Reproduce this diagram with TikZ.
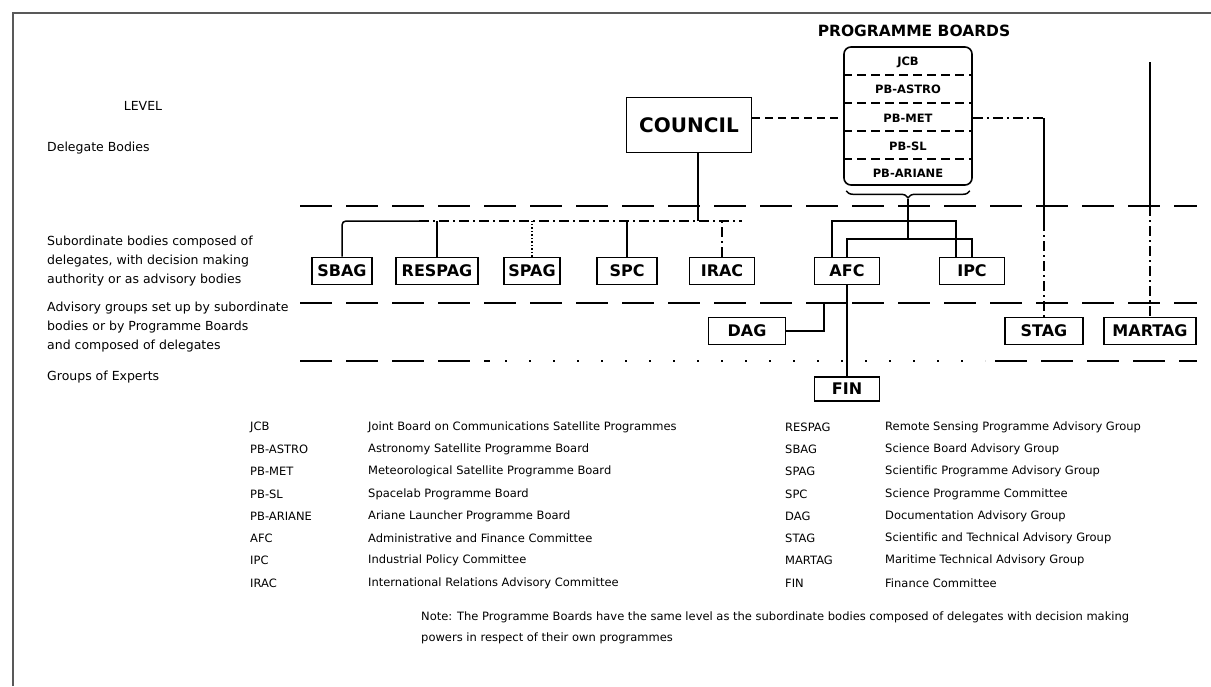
\documentclass[tikz,border=0pt]{standalone}
\usepackage{fontspec}
\setmainfont{DejaVu Sans}
\usetikzlibrary{decorations.pathreplacing}

\tikzset{
  org/.style={draw, line width=1.6pt, font=\bfseries\fontsize{16}{16}\selectfont,
    minimum height=27pt, inner sep=1pt},
  link/.style={line width=1.5pt},
  dashdot/.style={dash pattern=on 10pt off 4pt on 2pt off 4pt},
  longdash/.style={dash pattern=on 8pt off 5pt},
  band/.style={line width=1.8pt, dash pattern=on 32pt off 14pt},
  lbl/.style={anchor=west, font=\fontsize{12.5}{19}\selectfont, align=left, inner sep=0pt},
  key/.style={anchor=west, font=\fontsize{11.5}{14}\selectfont, inner sep=0pt},
  boardrow/.style={font=\bfseries\fontsize{11.5}{12}\selectfont, inner sep=0pt},
}

\begin{document}
\begin{tikzpicture}[x=1pt,y=-1pt]
  \useasboundingbox (0,0) rectangle (1211,686);

  % frame of the page
  \draw[line width=1.6pt, gray!70!black] (13,686) -- (13,13) -- (1211,13);

  % level bands
  \draw[band] (300,206) -- (1197,206);
  \draw[band] (300,303) -- (1197,303);
  \draw[band] (300,361) -- (490,361);
  \draw[line width=1.8pt, dash pattern=on 2pt off 22pt] (505,361) -- (985,361);
  \draw[band] (995,361) -- (1197,361);

  % level labels
  \node[lbl, anchor=center] (level) at (143,106) {LEVEL};
  \node[lbl] (deleg) at (47,148) {Delegate Bodies};
  \node[lbl] (subord) at (47,261) {Subordinate bodies composed of\\delegates, with decision making\\authority or as advisory bodies};
  \node[lbl] (advis) at (47,327) {Advisory groups set up by subordinate\\bodies or by Programme Boards\\and composed of delegates};
  \node[lbl] (experts) at (47,377) {Groups of Experts};

  % council and programme boards
  \node[draw, line width=1.6pt, minimum width=125pt, minimum height=55pt,
        font=\bfseries\fontsize{20}{20}\selectfont] (council) at (689,125) {COUNCIL};
  \node[font=\bfseries\fontsize{15.5}{16}\selectfont] (pbtitle) at (914,31) {PROGRAMME BOARDS};
  \node[draw, line width=1.6pt, rounded corners=7pt, minimum width=128pt,
        minimum height=138pt] (board) at (908,116) {};
  \node[boardrow] (jcb) at (908,62) {JCB};
  \node[boardrow] (pbastro) at (908,89) {PB-ASTRO};
  \node[boardrow] (pbmet) at (908,118) {PB-MET};
  \node[boardrow] (pbsl) at (908,146) {PB-SL};
  \node[boardrow] (pbariane) at (908,173) {PB-ARIANE};
  \foreach \y in {75,103,131,159}
    \draw[line width=1.4pt, dash pattern=on 9pt off 5pt] (board.west |- 0,\y) -- (board.east |- 0,\y);
  \draw[link, decorate, decoration={brace, amplitude=7pt}]
    ([xshift=-3pt,yshift=-5pt]board.south east) -- ([xshift=3pt,yshift=-5pt]board.south west);
  \coordinate (tip) at ([yshift=-13pt]board.south);

  % subordinate bodies
  \node[org, minimum width=60pt] (sbag) at (342,271) {SBAG};
  \node[org, minimum width=82pt] (respag) at (437,271) {RESPAG};
  \node[org, minimum width=56pt] (spag) at (532,271) {SPAG};
  \node[org, minimum width=60pt] (spc) at (627,271) {SPC};
  \node[org, minimum width=65pt] (irac) at (722,271) {IRAC};
  \node[org, minimum width=65pt] (afc) at (847,271) {AFC};
  \node[org, minimum width=65pt] (ipc) at (972,271) {IPC};

  % advisory groups and experts
  \node[org, minimum width=77pt] (dag) at (747,331) {DAG};
  \node[org, minimum width=78pt] (stag) at (1044,331) {STAG};
  \node[org, minimum width=92pt] (martag) at (1150,331) {MARTAG};
  \node[org, minimum width=65pt, minimum height=24pt] (fin) at (847,389) {FIN};

  % council links
  \coordinate (busw) at (419,221);
  \coordinate (buse) at (742,221);
  \draw[link, longdash] (council.east |- pbmet) -- (board.west |- pbmet);
  \draw[link] ([xshift=9pt]council.south) -- ([xshift=9pt]council.south |- buse);
  \draw[link, rounded corners=4pt] (sbag.north) |- (busw);
  \draw[link, dashdot] (busw) -- (buse);
  \draw[link] (respag.north) -- (respag.north |- buse);
  \draw[link, dotted] (spag.north) -- (spag.north |- buse);
  \draw[link] (spc.north) -- (spc.north |- buse);
  \draw[link, dashdot] (irac.north) -- (irac.north |- buse);

  % programme board links
  \coordinate (busa) at (908,221);
  \coordinate (busb) at (908,239);
  \draw[link] (tip) -- (busb);
  \draw[link] ([xshift=-15pt]afc.north) |- (busa) -| ([xshift=-16pt]ipc.north);
  \draw[link] (afc.north) |- (busb) -| (ipc.north);
  \draw[link] (afc.south) -- (fin.north);
  \coordinate (dagturn) at (824,303);
  \draw[link] (dag.east) -| (dagturn) -- (afc.south |- dagturn);
  \draw[link, dashdot] (board.east |- pbmet) -- (stag.north |- pbmet);
  \draw[link] (stag.north |- pbmet) -- (stag.north |- busa);
  \draw[link, dashdot] (stag.north |- busa) -- (stag.north);
  \coordinate (mtop) at (1150,62);
  \draw[link] (mtop) -- (mtop |- 0,206);
  \draw[link, dashdot] (mtop |- 0,206) -- (martag.north);

  % key to abbreviations
  \foreach \ab/\txt [count=\i] in {
      JCB/Joint Board on Communications Satellite Programmes,
      PB-ASTRO/Astronomy Satellite Programme Board,
      PB-MET/Meteorological Satellite Programme Board,
      PB-SL/Spacelab Programme Board,
      PB-ARIANE/Ariane Launcher Programme Board,
      AFC/Administrative and Finance Committee,
      IPC/Industrial Policy Committee,
      IRAC/International Relations Advisory Committee}
  {
    \node[key] (kl\i) at (250,427+22.3*\i-22.3) {\ab};
    \node[key] (kld\i) at (368,427+22.3*\i-22.3) {\txt};
  }
  \foreach \ab/\txt [count=\i] in {
      RESPAG/Remote Sensing Programme Advisory Group,
      SBAG/Science Board Advisory Group,
      SPAG/Scientific Programme Advisory Group,
      SPC/Science Programme Committee,
      DAG/Documentation Advisory Group,
      STAG/Scientific and Technical Advisory Group,
      MARTAG/Maritime Technical Advisory Group,
      FIN/Finance Committee}
  {
    \node[key] (kr\i) at (785,427+22.3*\i-22.3) {\ab};
    \node[key] (krd\i) at (885,427+22.3*\i-22.3) {\txt};
  }

  % note
  \node[key, align=left, font=\fontsize{11.5}{21}\selectfont] (note) at (421,628)
    {Note: The Programme Boards have the same level as the subordinate bodies composed of delegates with decision making\\powers in respect of their own programmes};
\end{tikzpicture}
\end{document}
